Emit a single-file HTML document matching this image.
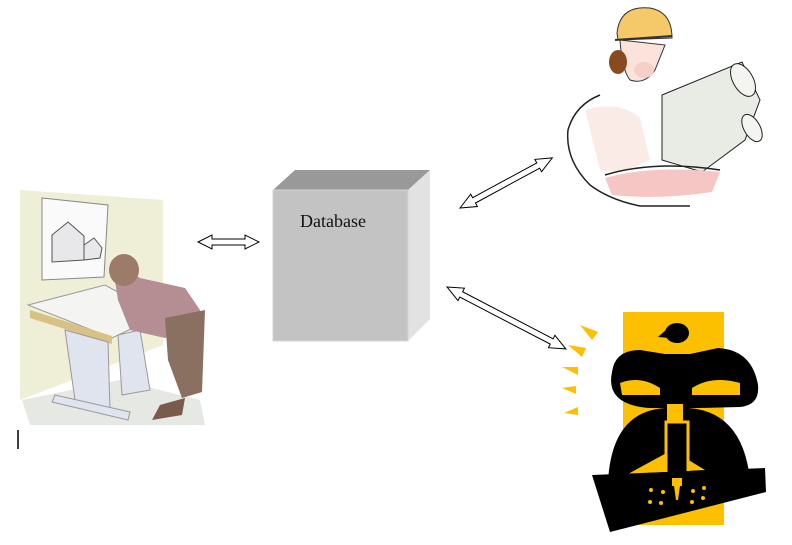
<!DOCTYPE html>
<html><head><meta charset="utf-8"><style>
html,body{margin:0;padding:0;background:#fff;}
body{width:792px;height:545px;position:relative;overflow:hidden;font-family:"Liberation Serif",serif;}
svg{position:absolute;left:0;top:0;}
.lbl{position:absolute;left:300px;top:211px;font-size:18px;color:#111;}
</style></head><body>
<svg width="792" height="545" viewBox="0 0 792 545">
<polygon points="273,190 295,170 430,170 408,190" fill="#999"/>
<polygon points="408,190 430,170 430,319 408,341" fill="#e2e2e2"/>
<rect x="273" y="190" width="135" height="151" fill="#c3c3c3" stroke="#d5d5d5"/>
<g fill="#fff" stroke="#000" stroke-width="1">
<path transform="translate(198,242)" d="M0,0 L14,-7 L14,-3 L47,-3 L47,-7 L61,0 L47,7 L47,3 L14,3 L14,7 Z"/>
<path transform="translate(460,208) rotate(-28.5)" d="M0,0 L16,-7 L16,-3 L89,-3 L89,-7 L105,0 L89,7 L89,3 L16,3 L16,7 Z"/>
<path transform="translate(447,287) rotate(27.5)" d="M0,0 L16,-7 L16,-3 L118,-3 L118,-7 L134,0 L118,7 L118,3 L16,3 L16,7 Z"/>
</g>
<line x1="18" y1="430" x2="18" y2="449" stroke="#000" stroke-width="1.5"/>
<!-- draftsman -->
<polygon points="20,190 163,200 163,345 20,400" fill="#efeed6"/>
<polygon points="22,400 120,380 200,400 205,425 30,425" fill="#e6e8e4"/>
<polygon points="42,198 108,205 104,277 42,280" fill="#fafafa" stroke="#888"/>
<polygon points="52,235 68,222 84,236 84,260 52,262" fill="#e8e8ea" stroke="#555"/>
<polygon points="84,245 94,238 102,248 100,258 84,260" fill="#e8e8ea" stroke="#555"/>
<polygon points="28,305 105,285 160,315 112,338" fill="#f4f4f2" stroke="#999"/>
<polygon points="30,310 112,336 112,344 30,318" fill="#d9c185"/>
<polygon points="65,330 108,342 110,410 75,400" fill="#dfe4ee" stroke="#999"/>
<polygon points="118,335 140,330 150,390 122,395" fill="#dfe4ee" stroke="#999"/>
<polygon points="55,395 130,412 128,420 52,402" fill="#dfe4ee" stroke="#999"/>
<polygon points="112,262 140,278 185,288 200,310 200,332 165,338 130,330 118,300" fill="#b58e94"/>
<ellipse cx="124" cy="270" rx="15" ry="16" fill="#9c7b6a"/>
<polygon points="165,318 205,310 202,392 182,398 168,360" fill="#8a7060"/>
<polygon points="160,405 185,398 182,415 152,420" fill="#7a5a4a"/>
<!-- engineer -->
<path d="M600,95 Q575,105 568,130 Q565,160 590,185 Q610,200 640,206 L690,206" fill="none" stroke="#222" stroke-width="1.5"/>
<path d="M585,110 Q620,100 640,118 L650,160 Q620,175 600,170 Z" fill="#fbebe6"/>
<path d="M620,40 Q622,70 630,80 Q645,85 655,70 L665,45 Z" fill="#fbe3dc" stroke="#333"/>
<ellipse cx="644" cy="70" rx="10" ry="8" fill="#f5cfc8"/>
<ellipse cx="618" cy="62" rx="9" ry="12" fill="#8a4a20"/>
<path d="M617,33 Q620,5 650,8 Q672,12 672,38 L618,40 Z" fill="#f5c96a" stroke="#333"/>
<line x1="615" y1="40" x2="672" y2="36" stroke="#333" stroke-width="2"/>
<polygon points="662,95 742,62 760,100 745,140 702,172 662,160" fill="#e9ece4" stroke="#222"/>
<ellipse cx="743" cy="80" rx="10" ry="18" fill="#f4f5f0" stroke="#222" transform="rotate(-30 743 80)"/>
<ellipse cx="752" cy="128" rx="8" ry="15" fill="#f4f5f0" stroke="#222" transform="rotate(-30 752 128)"/>
<path d="M605,178 Q650,165 720,172 L712,192 Q660,200 612,195 Z" fill="#f5c6c4"/>
<path d="M605,175 Q655,160 720,170" fill="none" stroke="#222" stroke-width="1.5"/>
<!-- worker -->
<rect x="623" y="312" width="101" height="213" fill="#fcc000"/>
<g fill="#fcc000">
<polygon points="580,325 598,332 592,340"/>
<polygon points="568,345 586,348 582,357"/>
<polygon points="562,367 578,367 578,375"/>
<polygon points="562,388 576,386 576,394"/>
<polygon points="564,413 578,407 578,415"/>
</g>
<ellipse cx="677" cy="333" rx="12" ry="10" fill="#000"/>
<polygon points="658,337 667,329 670,338" fill="#000"/>
<path d="M612,372 Q615,350 640,350 L665,354 L690,354 L718,348 Q752,350 758,385 Q760,405 740,407 L700,408 L650,408 Q605,405 612,372 Z" fill="#000"/>
<path d="M620,383 Q640,375 660,388 L660,395 L622,395 Z" fill="#fcc000"/>
<path d="M692,388 Q712,375 740,383 L740,395 L692,395 Z" fill="#fcc000"/>
<path d="M608,482 Q612,405 675,408 Q742,404 750,480 Z" fill="#000"/>
<polygon points="628,474 672,450 705,470" fill="#fcc000"/>
<rect x="667" y="404" width="16" height="20" fill="#fcc000"/>
<rect x="666" y="422" width="22" height="56" fill="#000" stroke="#fcc000" stroke-width="3"/>
<polygon points="592,475 765,468 766,492 610,532" fill="#000"/>
<rect x="672" y="478" width="10" height="8" fill="#fcc000"/>
<polygon points="674,486 680,486 678,500 676,500" fill="#fcc000"/>
<g fill="#fcc000"><circle cx="651" cy="490" r="2"/><circle cx="663" cy="492" r="2"/><circle cx="650" cy="502" r="2"/><circle cx="661" cy="503" r="2"/><circle cx="693" cy="491" r="2"/><circle cx="704" cy="488" r="2"/><circle cx="692" cy="502" r="2"/><circle cx="703" cy="498" r="2"/></g>
</svg>
<div class="lbl">Database</div>
</body></html>
